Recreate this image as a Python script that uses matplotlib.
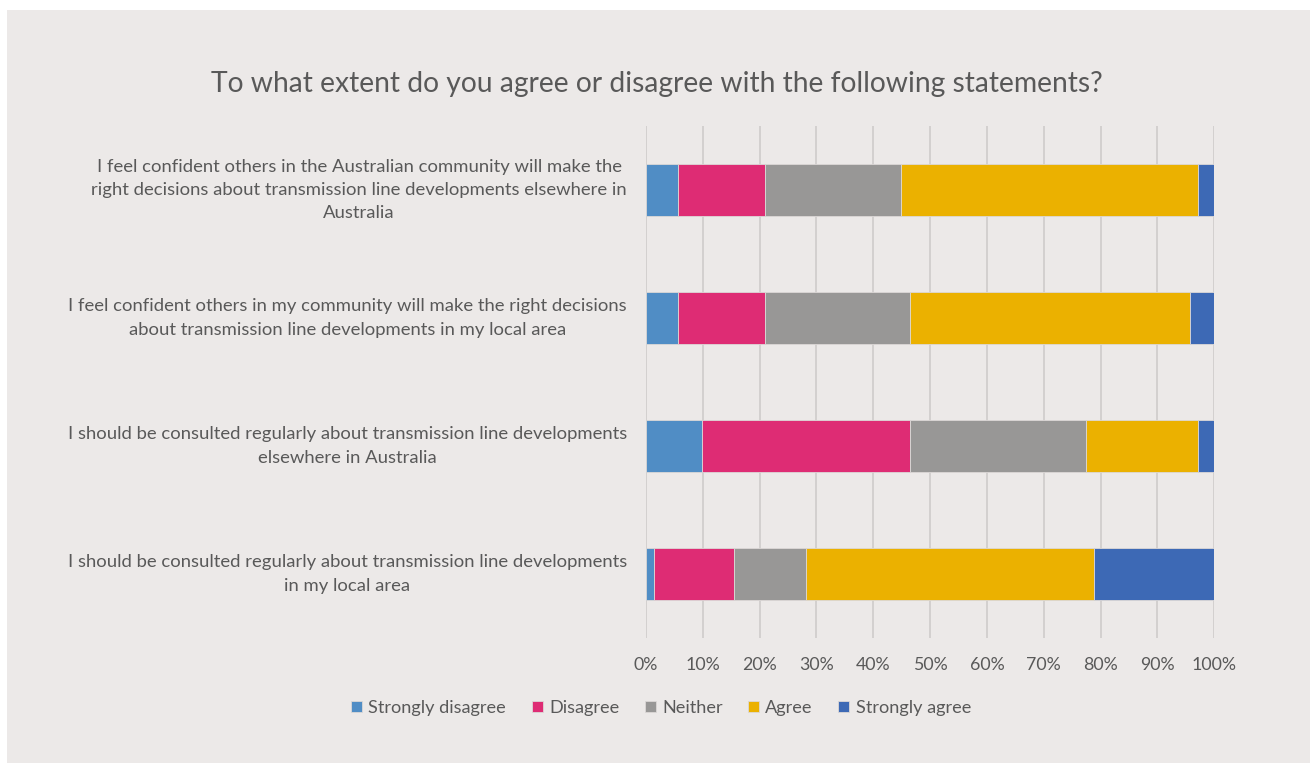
import matplotlib
matplotlib.use("Agg")
import matplotlib.pyplot as plt
from matplotlib.patches import Rectangle
import numpy as np

categories = [
    "I feel confident others in the Australian community will make the\nright decisions about transmission line developments elsewhere in\nAustralia",
    "I feel confident others in my community will make the right decisions\nabout transmission line developments in my local area",
    "I should be consulted regularly about transmission line developments\nelsewhere in Australia",
    "I should be consulted regularly about transmission line developments\nin my local area",
]
series_names = ["Strongly disagree", "Disagree", "Neither", "Agree", "Strongly agree"]
strongly_disagree = [5.6, 5.6, 9.8, 1.4]
disagree = [15.4, 15.4, 36.6, 14.0]
neither = [23.9, 25.4, 31.0, 12.7]
agree = [52.3, 49.4, 19.8, 50.8]
strongly_agree = [2.8, 4.2, 2.8, 21.1]
x_ticks = [0, 10, 20, 30, 40, 50, 60, 70, 80, 90, 100]
x_tick_labels = ["0%", "10%", "20%", "30%", "40%", "50%", "60%", "70%", "80%", "90%", "100%"]
title = "To what extent do you agree or disagree with the following statements?"

colors = ["#508DC5", "#DE2C74", "#989796", "#EBB100", "#3D69B5"]
bg = "#ECE9E8"
text_color = "#595959"
FONT = ["Lato", "DejaVu Sans"]
plt.rcParams["font.family"] = FONT

W, H = 1310, 763
fig = plt.figure(figsize=(W / 100, H / 100), dpi=100)
fig.patch.set_facecolor("white")
fig.add_artist(Rectangle((7 / W, 0), 1 - 7 / W, 1 - 10 / H, transform=fig.transFigure,
                         facecolor=bg, edgecolor="none", zorder=-10))

left, right = 646 / W, 1214.3 / W
top, bottom = 1 - 126 / H, 1 - 638 / H
ax = fig.add_axes([left, bottom, right - left, top - bottom])
ax.set_facecolor("none")

series = [strongly_disagree, disagree, neither, agree, strongly_agree]
y = np.arange(len(categories))
cum = np.zeros(len(categories))
for name, vals, c in zip(series_names, series, colors):
    vals = np.array(vals, dtype=float)
    ax.barh(y, vals, left=cum, height=0.4, color=c, label=name,
            edgecolor="#dcd8d7", linewidth=0.6, zorder=3)
    cum += vals

ax.set_xlim(0, 100)
ax.set_ylim(len(categories) - 0.5, -0.5)
ax.set_xticks(x_ticks)
ax.set_xticklabels(x_tick_labels)
ax.xaxis.grid(True, color="#CFCCCB", linewidth=1.2, zorder=0)
ax.set_axisbelow(True)
for s in ax.spines.values():
    s.set_visible(False)
ax.tick_params(axis="x", length=0, pad=14, labelsize=12.8, labelcolor=text_color)
ax.tick_params(axis="y", length=0)
ax.set_yticks(y)
ax.set_yticklabels([])
for yi, lab in zip(y, categories):
    ax.text(-19 / 5.683, yi, lab, ha="right", va="center", multialignment="center",
            fontsize=13.3, color=text_color, linespacing=1.55,
            transform=ax.transData, clip_on=False)

fig.text(657 / W, 1 - 84 / H, title, ha="center", va="center", fontsize=20.3, color=text_color)

leg = fig.legend(loc="center", bbox_to_anchor=(661 / W, 1 - 708 / H), ncol=5, frameon=False,
                 handlelength=0.6, handleheight=0.6, handletextpad=0.35, columnspacing=1.4,
                 fontsize=13.1)
for t in leg.get_texts():
    t.set_color(text_color)

fig.savefig("out.png", dpi=100, facecolor=fig.get_facecolor())
